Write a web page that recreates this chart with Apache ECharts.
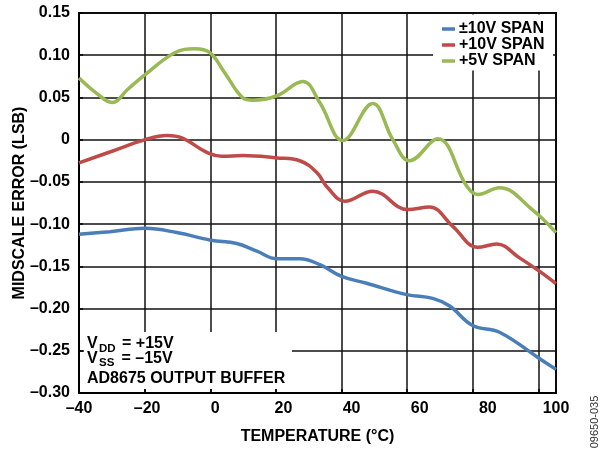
<!DOCTYPE html>
<html>
<head>
<meta charset="utf-8">
<script src="https://cdn.jsdelivr.net/npm/echarts@6/dist/echarts.min.js"></script>
<style>
  html, body { margin: 0; padding: 0; background: #fff; }
  #chart { width: 612px; height: 450px; }
</style>
</head>
<body>
<div id="chart"></div>
<script>
// ---- Data ----
const seriesNames = ['\u00b110V SPAN', '+10V SPAN', '+5V SPAN'];

const blueTemps = [-40, -30.9, -20.6, -11.3, -1.3, 6.3, 12.2, 18.1, 24.8, 30.7, 37.1, 44.4, 56.2, 63.8, 68.8, 75.5, 83.4, 94.9, 100];
const blueErr   = [-0.112, -0.109, -0.105, -0.110, -0.119, -0.123, -0.132, -0.141, -0.141, -0.148, -0.162, -0.170, -0.1835, -0.188, -0.197, -0.220, -0.228, -0.2585, -0.272];

const redTemps = [-40, -30.3, -20.6, -14.2, -9.8, -2.2, 1.9, 8.1, 18.1, 24.8, 29.8, 33.0, 38.0, 46.2, 56.5, 62.9, 69.7, 77.0, 82.6, 89.3, 95.2, 100];
const redErr   = [-0.0275, -0.0137, 0.0, 0.005, 0.002, -0.0157, -0.0196, -0.0188, -0.0216, -0.025, -0.039, -0.057, -0.073, -0.061, -0.0828, -0.0797, -0.1026, -0.1275, -0.1235, -0.140, -0.156, -0.1705];

const greenTemps = [-40, -35, -30.3, -25.6, -20.6, -11.9, -6.0, -1.6, 2.8, 8.1, 11.0, 18.1, 25.7, 30.7, 37.4, 46.2, 52.1, 57.0, 65.3, 73.8, 77.0, 83.4, 93.1, 100];
const greenErr   = [0.073, 0.0555, 0.044, 0.060, 0.077, 0.103, 0.1076, 0.103, 0.079, 0.0495, 0.0467, 0.052, 0.069, 0.0436, -0.001, 0.0428, 0.0, -0.025, 0.001, -0.055, -0.065, -0.057, -0.083, -0.110];

const xTickLabels = ['\u201340', '\u201320', '0', '20', '40', '60', '80', '100'];
const yTickLabels = ['\u20130.30', '\u20130.25', '\u20130.20', '\u20130.15', '\u20130.10', '\u20130.05', '0', '0.05', '0.10', '0.15'];

const colors = ['#4a7ebb', '#be4b48', '#98b954'];
const FONT = '"Liberation Sans", Arial, sans-serif';
const FS = 16;

function pairs(xs, ys) { return xs.map((x, i) => [x, ys[i]]); }

const chart = echarts.init(document.getElementById('chart'), null, { renderer: 'canvas' });

const gridLeft = 79, gridTop = 13, gridRight = 56, gridBottom = 57;
const gridLine = { color: '#111', width: 1.5 };

const option = {
  animation: false,
  backgroundColor: '#fff',
  textStyle: { fontFamily: FONT },
  grid: {
    left: gridLeft, top: gridTop, right: gridRight, bottom: gridBottom,
    containLabel: false, outerBoundsMode: 'none',
    show: true, borderColor: '#000', borderWidth: 2, backgroundColor: 'transparent'
  },
  legend: {
    data: seriesNames,
    orient: 'vertical',
    left: 442, top: 21,
    icon: 'rect', itemWidth: 13, itemHeight: 3.5, itemGap: 0,
    padding: 0,
    textStyle: { fontFamily: FONT, fontWeight: 'bold', fontSize: FS, color: '#000', lineHeight: 16, padding: [0, 0, 0, -1] }
  },
  xAxis: [
    {
      type: 'value', position: 'bottom', min: -40, max: 100, interval: 20,
      axisLine: { show: true, onZero: false, lineStyle: { color: '#000', width: 2 } },
      axisTick: { show: false },
      splitLine: { show: false },
      axisLabel: {
        margin: 8, fontFamily: FONT, fontWeight: 'bold', fontSize: FS, color: '#000',
        formatter: v => xTickLabels[Math.round((v + 40) / 20)]
      },
      name: 'TEMPERATURE (\u00b0C)', nameLocation: 'middle', nameGap: 36, nameMoveOverlap: false,
      nameTextStyle: { fontFamily: FONT, fontWeight: 'bold', fontSize: FS, color: '#000' }
    },
    {
      // gridline axis (vertical grid of the original plot)
      type: 'value', position: 'bottom', min: 0, max: 7.267, interval: 1,
      axisLine: { show: false, onZero: false },
      axisLabel: { show: false },
      axisTick: { show: true, inside: true, length: 4, lineStyle: { color: '#000', width: 1.5 } },
      splitLine: { show: true, lineStyle: gridLine }
    }
  ],
  yAxis: {
    type: 'value', min: -0.30, max: 0.15, interval: 0.05,
    axisLine: { show: true, onZero: false, lineStyle: { color: '#000', width: 2 } },
    axisTick: { show: true, inside: true, length: 4, lineStyle: { color: '#000', width: 1.5 } },
    splitLine: { show: true, lineStyle: gridLine },
    axisLabel: {
      margin: 9, fontFamily: FONT, fontWeight: 'bold', fontSize: FS, color: '#000',
      formatter: v => yTickLabels[Math.round((v + 0.30) / 0.05)]
    },
    name: 'MIDSCALE ERROR (LSB)', nameLocation: 'middle', nameGap: 51, nameMoveOverlap: false,
    nameTextStyle: { fontFamily: FONT, fontWeight: 'bold', fontSize: FS, color: '#000' }
  },
  series: [
    { name: seriesNames[0], type: 'line', xAxisIndex: 0, data: pairs(blueTemps, blueErr), smooth: 0.4, symbol: 'none', z: 3,
      lineStyle: { color: colors[0], width: 3.5 }, itemStyle: { color: colors[0] } },
    { name: seriesNames[1], type: 'line', xAxisIndex: 0, data: pairs(redTemps, redErr), smooth: 0.4, symbol: 'none', z: 3,
      lineStyle: { color: colors[1], width: 3.5 }, itemStyle: { color: colors[1] } },
    { name: seriesNames[2], type: 'line', xAxisIndex: 0, data: pairs(greenTemps, greenErr), smooth: 0.4, symbol: 'none', z: 3,
      lineStyle: { color: colors[2], width: 3.5 }, itemStyle: { color: colors[2] } }
  ],
  graphic: [
    // white boxes behind legend and annotation (hide gridlines)
    { type: 'rect', z: 1, silent: true, shape: { x: 433, y: 14.5, width: 120, height: 56 }, style: { fill: '#fff' } },
    { type: 'rect', z: 1, silent: true, shape: { x: 84, y: 332, width: 208, height: 57 }, style: { fill: '#fff' } },
    // annotation text
    { type: 'text', z: 5, x: 87, y: 344, style: { text: 'V', font: 'bold 16px ' + FONT, fill: '#000', align: 'left', verticalAlign: 'middle' } },
    { type: 'text', z: 5, x: 99, y: 348.5, style: { text: 'DD', font: 'bold 11.5px ' + FONT, fill: '#000', align: 'left', verticalAlign: 'middle' } },
    { type: 'text', z: 5, x: 122, y: 344, style: { text: '= +15V', font: 'bold 16px ' + FONT, fill: '#000', align: 'left', verticalAlign: 'middle' } },
    { type: 'text', z: 5, x: 87, y: 358.5, style: { text: 'V', font: 'bold 16px ' + FONT, fill: '#000', align: 'left', verticalAlign: 'middle' } },
    { type: 'text', z: 5, x: 99, y: 363, style: { text: 'SS', font: 'bold 11.5px ' + FONT, fill: '#000', align: 'left', verticalAlign: 'middle' } },
    { type: 'text', z: 5, x: 121.5, y: 358.5, style: { text: '= \u201315V', font: 'bold 16px ' + FONT, fill: '#000', align: 'left', verticalAlign: 'middle' } },
    { type: 'text', z: 5, x: 87, y: 378.5, style: { text: 'AD8675 OUTPUT BUFFER', font: 'bold 16px ' + FONT, fill: '#000', align: 'left', verticalAlign: 'middle' } },
    // figure code
    { type: 'text', z: 5, x: 595, y: 422, rotation: Math.PI / 2, style: { text: '09650-035', font: '11px ' + FONT, fill: '#333', align: 'center', verticalAlign: 'middle' } }
  ]
};

chart.setOption(option);
</script>
</body>
</html>
